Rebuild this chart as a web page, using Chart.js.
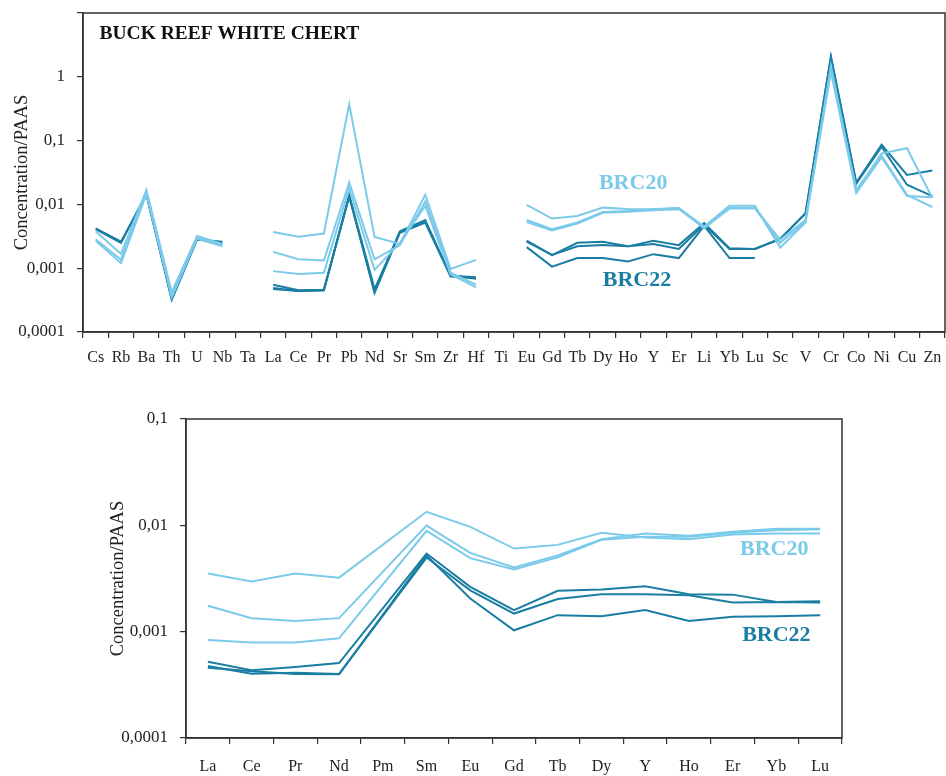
<!DOCTYPE html>
<html>
<head>
<meta charset="utf-8">
<script src="https://cdn.jsdelivr.net/npm/chart.js@4.4.1/dist/chart.umd.min.js"></script>
<style>
  body { margin: 0; background: #fff; }
  #wrap { position: relative; width: 946px; height: 776px; }
  canvas { position: absolute; left: 0; }
  #graficaTop { top: 0; }
  #graficaRee { top: 380px; }
</style>
</head>
<body>
<div id="wrap">
  <canvas id="graficaTop" width="946" height="370"></canvas>
  <canvas id="graficaRee" width="946" height="396"></canvas>
</div>
<script>
// elementos del diagrama multielemento (arriba)
const elementosTop = ['Cs','Rb','Ba','Th','U','Nb','Ta','La','Ce','Pr','Pb','Nd','Sr','Sm','Zr','Hf','Ti',
  'Eu','Gd','Tb','Dy','Ho','Y','Er','Li','Yb','Lu','Sc','V','Cr','Co','Ni','Cu','Zn'];

// BRC20 (azul claro)
const brc20aTop = [0.0038, 0.00167, 0.0168, 0.00042, 0.0032, 0.0024, null,
  0.0037, 0.0031, 0.0035, 0.37, 0.0031, 0.0024, 0.0141, 0.00097, 0.00135, null,
  0.0098, 0.006, 0.0066, 0.0089, 0.0085, 0.0083, 0.0088, 0.0045, 0.0095, 0.0095,
  0.0021, 0.0052, 1.5, 0.016, 0.063, 0.076, 0.0126];
const brc20bTop = [0.00285, 0.00135, 0.016, 0.00038, 0.003, 0.0023, null,
  0.0018, 0.00138, 0.00132, 0.022, 0.00138, 0.0023, 0.0111, 0.00085, 0.00055, null,
  0.0057, 0.0041, 0.0052, 0.0076, 0.0079, 0.0085, 0.0087, 0.0042, 0.0088, 0.0088,
  0.0028, 0.0057, 1.3, 0.017, 0.058, 0.0141, 0.0091];
const brc20cTop = [0.0027, 0.0012, 0.0145, 0.00035, 0.0029, 0.0022, null,
  0.0009, 0.00081, 0.00085, 0.018, 0.00094, 0.0025, 0.0095, 0.0008, 0.0005, null,
  0.0053, 0.0039, 0.005, 0.0074, 0.0077, 0.0081, 0.0084, 0.0044, 0.0086, 0.0087,
  0.0025, 0.0054, 1.2, 0.015, 0.055, 0.0135, 0.013];
// BRC22 (azul oscuro)
const brc22aTop = [0.0042, 0.0026, 0.0141, 0.00032, 0.0028, 0.0026, null,
  0.00055, 0.00045, 0.00046, 0.0133, 0.00043, 0.0038, 0.0057, 0.00076, 0.00072, null,
  0.0027, 0.0016, 0.0025, 0.0026, 0.0022, 0.0027, 0.0023, 0.0051, 0.00206, 0.002,
  0.00285, 0.0073, 2.1, 0.022, 0.086, 0.029, 0.034];
const brc22bTop = [0.0041, 0.0025, 0.0145, 0.00033, 0.0029, 0.0025, null,
  0.00049, 0.00044, 0.00045, 0.014, 0.00047, 0.0037, 0.0053, 0.00078, 0.00068, null,
  0.0026, 0.00162, 0.0022, 0.0023, 0.0022, 0.0024, 0.002, 0.0048, 0.002, 0.002,
  0.0029, 0.0072, 2.0, 0.021, 0.08, 0.0203, 0.0135];
const brc22cTop = [null, null, null, null, null, null, null,
  0.00047, 0.00044, 0.00045, 0.0135, 0.00041, 0.0036, 0.0052, 0.00074, 0.0007, null,
  0.00214, 0.00106, 0.00144, 0.00144, 0.00127, 0.00166, 0.00144, 0.0046, 0.00144, 0.00144,
  null, null, null, null, null, null, null];

// tierras raras (abajo)
const elementosRee = ['La','Ce','Pr','Nd','Pm','Sm','Eu','Gd','Tb','Dy','Y','Ho','Er','Yb','Lu'];
const brc20aRee = [0.00352, 0.00296, 0.00352, 0.00322, null, 0.0134, 0.00968, 0.00605, 0.00655, 0.0085, 0.0077, 0.0074, 0.0082, 0.0084, 0.0084];
const brc20bRee = [0.00175, 0.00134, 0.00126, 0.00134, null, 0.00995, 0.00551, 0.00401, 0.0052, 0.0074, 0.0084, 0.008, 0.0087, 0.0093, 0.0093];
const brc20cRee = [0.000835, 0.000789, 0.00079, 0.000867, null, 0.00887, 0.00491, 0.00384, 0.005, 0.0073, 0.0078, 0.0078, 0.0085, 0.009, 0.0092];
const brc22aRee = [0.000522, 0.000433, 0.000466, 0.000507, null, 0.00543, 0.00264, 0.00159, 0.00242, 0.00249, 0.00268, 0.00225, 0.00223, 0.0019, 0.00193];
const brc22bRee = [0.000475, 0.000403, 0.00041, 0.0004, null, 0.00498, 0.00245, 0.00148, 0.00203, 0.00225, 0.00225, 0.0022, 0.00188, 0.0019, 0.00188];
const brc22cRee = [0.000458, 0.000425, 0.0004, 0.000398, null, 0.0052, 0.00205, 0.00103, 0.00143, 0.0014, 0.0016, 0.00126, 0.00138, 0.0014, 0.00143];

const decadasTop = [0.0001, 0.001, 0.01, 0.1, 1, 10];
const decadasRee = [0.0001, 0.001, 0.01, 0.1];

const CLARO = '#7ccaea';
const OSCURO = '#1a7ea2';
const FUENTE = "'Liberation Serif', 'DejaVu Serif', serif";

// marco completo alrededor del área de la gráfica
const marcoPlugin = {
    id: 'marco',
    afterDraw(chart) {
        const a = chart.chartArea;
        const ctx = chart.ctx;
        ctx.save();
        ctx.strokeStyle = '#333';
        ctx.lineWidth = 1.5;
        ctx.strokeRect(a.left, a.top, a.right - a.left, a.bottom - a.top);
        ctx.restore();
    }
};

// etiquetas de texto ancladas a coordenadas de datos
const etiquetasPlugin = {
    id: 'etiquetas',
    afterDraw(chart, args, opts) {
        const ctx = chart.ctx;
        const x = chart.scales.x, y = chart.scales.y;
        ctx.save();
        (opts.items || []).forEach(it => {
            ctx.font = 'bold ' + it.size + 'px ' + FUENTE;
            ctx.fillStyle = it.color;
            ctx.textAlign = it.align || 'center';
            ctx.textBaseline = 'middle';
            ctx.fillText(it.text, x.getPixelForValue(it.x), y.getPixelForValue(it.y));
        });
        ctx.restore();
    }
};

function serie(data, color) {
    return { data: data, borderColor: color, backgroundColor: color, borderWidth: 2,
             pointRadius: 0, tension: 0 };
}

function etiquetaDecada(v) {
    return String(v).replace('.', ',');
}

function crearGrafica(id, labels, series, decadas, yMax, opciones) {
    const ctx = document.getElementById(id).getContext('2d');
    return new Chart(ctx, {
        type: 'line',
        data: {
            labels: labels,
            datasets: [
                serie(series[0], CLARO), serie(series[1], CLARO), serie(series[2], CLARO),
                serie(series[3], OSCURO), serie(series[4], OSCURO), serie(series[5], OSCURO)
            ]
        },
        options: {
            responsive: false,
            animation: false,
            spanGaps: opciones.spanGaps,
            layout: { padding: opciones.padding },
            plugins: {
                legend: { display: false },
                tooltip: { enabled: false },
                etiquetas: { items: opciones.etiquetas }
            },
            scales: {
                x: {
                    type: 'category',
                    offset: true,
                    grid: { display: true, offset: true, drawOnChartArea: false, tickLength: 6, color: '#333', lineWidth: 1.2 },
                    border: { display: true, color: '#333', width: 1.5 },
                    ticks: { autoSkip: false, maxRotation: 0, padding: 0, color: '#222',
                             font: { family: FUENTE, size: 16, lineHeight: opciones.xLineHeight } },
                    afterFit: s => { s.height = 38; s.paddingLeft = 0; s.paddingRight = 0; }
                },
                y: {
                    type: 'logarithmic',
                    min: 0.0001,
                    max: yMax,
                    afterBuildTicks: s => { s.ticks = decadas.map(v => ({ value: v })); },
                    grid: { display: true, drawOnChartArea: false, tickLength: 6, color: '#333', lineWidth: 1.2 },
                    border: { display: true, color: '#333', width: 1.5 },
                    ticks: {
                        padding: 12, color: '#222', font: { family: FUENTE, size: 17 },
                        callback: v => (v >= 10 ? '' : etiquetaDecada(v))
                    },
                    title: { display: true, text: 'Concentration/PAAS', color: '#222',
                             font: { family: FUENTE, size: 18.5 }, padding: { top: 11, bottom: 0 } },
                    afterFit: s => { s.width = opciones.yWidth; s.paddingTop = 0; s.paddingBottom = 0; }
                }
            }
        },
        plugins: [marcoPlugin, etiquetasPlugin]
    });
}

crearGrafica('graficaTop', elementosTop,
    [brc20aTop, brc20bTop, brc20cTop, brc22aTop, brc22bTop, brc22cTop],
    decadasTop, 10, {
        spanGaps: false,
        padding: { left: 0, right: 1, top: 13, bottom: 0 },
        yWidth: 83,
        xLineHeight: 2.5,
        etiquetas: [
            { text: 'BUCK REEF WHITE CHERT', x: 0.15, y: 4.7, color: '#111', size: 19.5, align: 'left' },
            { text: 'BRC20', x: 21.2, y: 0.0215, color: CLARO, size: 22 },
            { text: 'BRC22', x: 21.35, y: 0.00064, color: OSCURO, size: 22 }
        ]
    });

crearGrafica('graficaRee', elementosRee,
    [brc20aRee, brc20bRee, brc20cRee, brc22aRee, brc22bRee, brc22cRee],
    decadasRee, 0.1, {
        spanGaps: true,
        padding: { left: 96, right: 104, top: 39, bottom: 0 },
        yWidth: 90,
        xLineHeight: 2.875,
        etiquetas: [
            { text: 'BRC20', x: 12.95, y: 0.0059, color: CLARO, size: 22 },
            { text: 'BRC22', x: 13.0, y: 0.00093, color: OSCURO, size: 22 }
        ]
    });
</script>
</body>
</html>
